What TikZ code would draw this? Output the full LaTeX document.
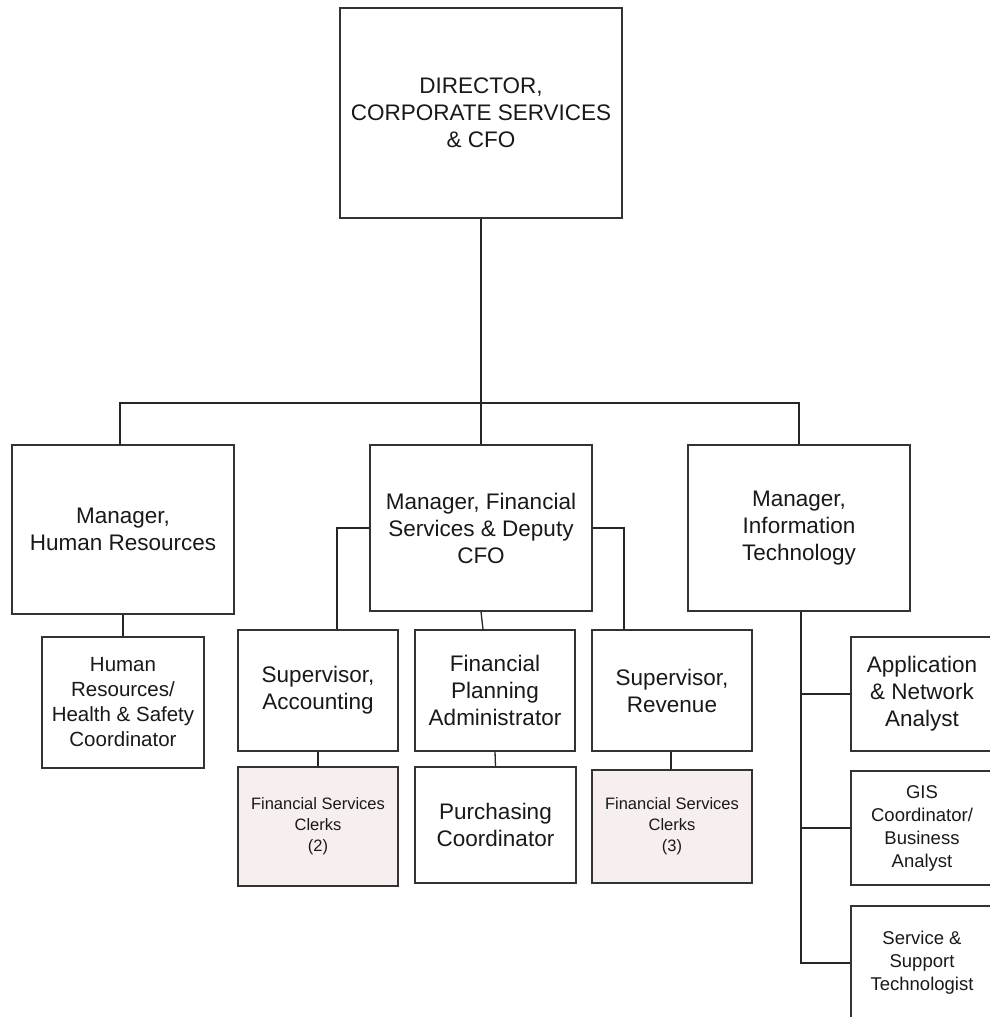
\documentclass[tikz,border=0pt]{standalone}
\usepackage{fontspec}
\setmainfont{Liberation Sans}
\definecolor{pinkfill}{HTML}{F7EFEE}
\begin{document}
\begin{tikzpicture}[x=1pt,y=-1pt,
  box/.style={draw=black!80, line width=1.3pt, fill=white, align=center, inner sep=0pt, text=black!90},
  big/.style={font=\fontsize{22.5}{27}\selectfont},
  mid/.style={font=\fontsize{20.5}{25}\selectfont},
  small/.style={font=\fontsize{18.5}{23}\selectfont},
  tiny/.style={font=\fontsize{16.5}{21}\selectfont},
  clerk/.style={fill=pinkfill},
  link/.style={draw=black!85, line width=1.3pt}]
\useasboundingbox (0,0) rectangle (990,1017);
\clip (0,0) rectangle (990,1017);

% top level
\node[box,big,minimum width=282pt,minimum height=210pt] (dir) at (481,113)
  {DIRECTOR,\\CORPORATE SERVICES\\\& CFO};

% managers
\node[box,big,minimum width=222pt,minimum height=169pt] (hr) at (123,529.5)
  {Manager,\\Human Resources};
\node[box,big,minimum width=222pt,minimum height=166pt] (fin) at (481,528)
  {Manager, Financial\\Services \& Deputy\\CFO};
\node[box,big,minimum width=222pt,minimum height=166pt] (it) at (799,528)
  {Manager,\\Information\\Technology};

% human resources
\node[box,mid,minimum width=162pt,minimum height=131pt] (hrc) at (123,702.5)
  {Human\\Resources/\\Health \& Safety\\Coordinator};

% financial services
\node[box,big,minimum width=160pt,minimum height=121pt] (supa) at (318,690.5)
  {Supervisor,\\Accounting};
\node[box,big,minimum width=160pt,minimum height=121pt] (fpa) at (495,690.5)
  {Financial\\Planning\\Administrator};
\node[box,big,minimum width=160pt,minimum height=121pt] (supr) at (672,690.5)
  {Supervisor,\\Revenue};
\node[box,tiny,clerk,minimum width=160pt,minimum height=119pt] (clk2) at (318,826.5)
  {Financial Services\\Clerks\\(2)};
\node[box,big,minimum width=161pt,minimum height=116pt] (pc) at (495.5,825)
  {Purchasing\\Coordinator};
\node[box,tiny,clerk,minimum width=160pt,minimum height=113pt] (clk3) at (672,826.5)
  {Financial Services\\Clerks\\(3)};

% information technology
\node[box,big,minimum width=142pt,minimum height=114pt] (ana) at (922,694)
  {Application\\\& Network\\Analyst};
\node[box,small,minimum width=142pt,minimum height=114pt] (gis) at (922,828)
  {GIS\\Coordinator/\\Business\\Analyst};
\node[box,small,minimum width=142pt,minimum height=114pt] (svc) at (922,963)
  {Service \&\\Support\\Technologist};

% reporting lines
\coordinate (bus) at (481,403);
\draw[link] (dir.south) -- (fin.north);
\draw[link] ([xshift=-3pt]hr.north) |- (bus) -| (it.north);

\draw[link] (hr.south) -- (hrc.north);

\draw[link] (fin.west) -| ([xshift=19pt]supa.north);
\draw[link] (fin.east) -| ([xshift=-48pt]supr.north);
\draw[link] (fin.south) -- ([xshift=-12pt]fpa.north);
\draw[link] (supa.south) -- (clk2.north);
\draw[link] (fpa.south) -- (pc.north);
\draw[link] ([xshift=-1pt]supr.south) -- ([xshift=-1pt]clk3.north);

\coordinate (spine) at ([xshift=2pt]it.south);
\draw[link] (spine) |- (svc.west);
\draw[link] (ana.west) -- (ana.west -| spine);
\draw[link] (gis.west) -- (gis.west -| spine);
\end{tikzpicture}
\end{document}
